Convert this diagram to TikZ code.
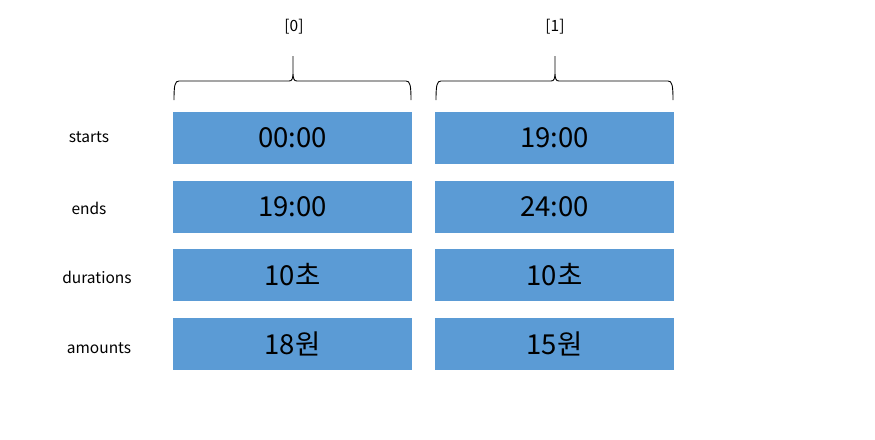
\documentclass[tikz,border=0pt]{standalone}
\usepackage{fontspec}
\setmainfont{Noto Sans CJK KR}
\definecolor{cellblue}{HTML}{5B9BD5}
\tikzset{
  cell/.style={rectangle, fill=cellblue, minimum width=239pt, minimum height=52pt, inner sep=0pt, font=\fontsize{27.5}{30}\selectfont},
  rowlabel/.style={font=\fontsize{15.5}{18}\selectfont},
  idx/.style={font=\fontsize{15.5}{18}\selectfont}
}
\newcommand{\colbrace}[3]{% left x, right x, tip x
  \draw[line width=0.9pt] (#1,100) .. controls (#1,85) and (#1+1,81) .. (#1+5,81)
    -- (#3-4,81) .. controls (#3-1,81) and (#3,79) .. (#3,72) -- (#3,56)
    (#3,72) .. controls (#3,79) and (#3+1,81) .. (#3+4,81)
    -- (#2-5,81) .. controls (#2-1,81) and (#2,85) .. (#2,100);}
\begin{document}
\begin{tikzpicture}[x=1pt, y=-1pt]
      \useasboundingbox (0,0) rectangle (875,439);
      \node (i0)[idx] at (294,27) {[0]};
      \node (i1)[idx] at (555,27) {[1]};
      \colbrace{174}{411}{293}
      \colbrace{436}{673}{555}
      \node (lstarts)[rowlabel] at (89,137) {starts};
      \node (lends)[rowlabel] at (89,208) {ends};
      \node (ldur)[rowlabel] at (97,277) {durations};
      \node (lamt)[rowlabel] at (99,348) {amounts};
      \node (s0)[cell] at (292.5,138) {00:00};
      \node (s1)[cell] at (554.5,138) {19:00};
      \node (e0)[cell] at (292.5,207) {19:00};
      \node (e1)[cell] at (554.5,207) {24:00};
      \node (d0)[cell] at (292.5,275) {10초};
      \node (d1)[cell] at (554.5,275) {10초};
      \node (a0)[cell] at (292.5,344) {18원};
      \node (a1)[cell] at (554.5,344) {15원};
    \end{tikzpicture}
\end{document}
